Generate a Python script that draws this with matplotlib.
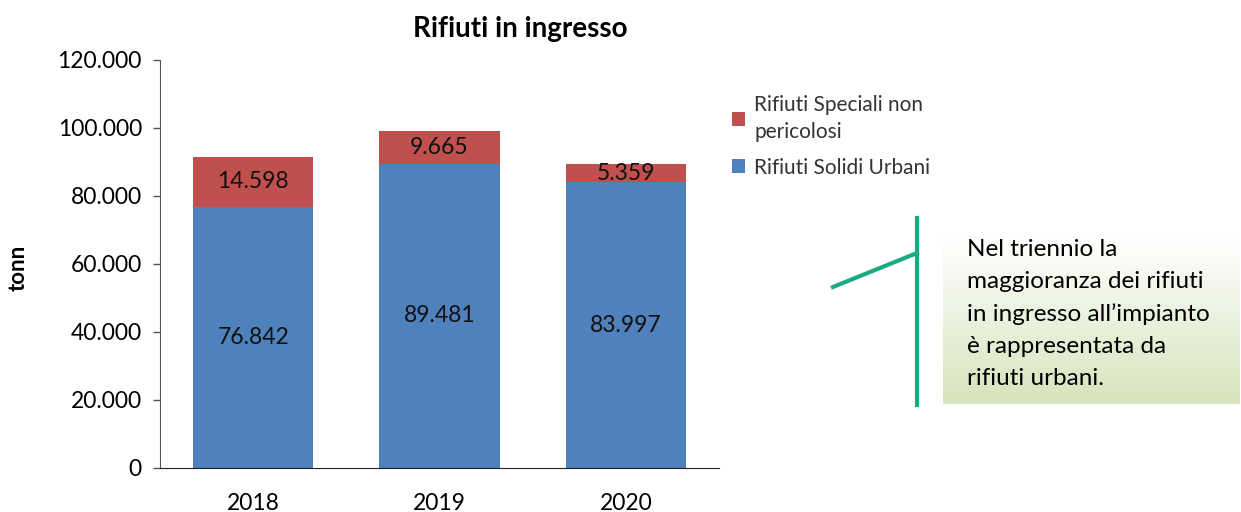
import numpy as np
import matplotlib.pyplot as plt
from matplotlib.colors import LinearSegmentedColormap

plt.rcParams['font.family'] = ['Lato', 'DejaVu Sans']

anni = ['2018', '2019', '2020']
urbani = [76842, 89481, 83997]
speciali = [14598, 9665, 5359]
lab_urbani = ['76.842', '89.481', '83.997']
lab_speciali = ['14.598', '9.665', '5.359']
yticks = [0, 20000, 40000, 60000, 80000, 100000, 120000]
ytick_lab = ['0', '20.000', '40.000', '60.000', '80.000', '100.000', '120.000']

blu = '#4F81BD'
rosso = '#C0504D'
verde = '#1BAA84'

W, H = 1241, 512
fig = plt.figure(figsize=(W / 100, H / 100), dpi=100)
ax = fig.add_axes([160 / W, 1 - 468 / H, (719 - 160) / W, (468 - 60) / H])

x = np.arange(len(anni))
b1 = ax.bar(x, urbani, width=0.645, color=blu, label='Rifiuti Solidi Urbani')
b2 = ax.bar(x, speciali, width=0.645, bottom=urbani, color=rosso,
            label='Rifiuti Speciali non\npericolosi')
ax.bar_label(b1, labels=lab_urbani, label_type='center', fontsize=16.5, color='#111111')
ax.bar_label(b2, labels=lab_speciali, label_type='center', fontsize=16.5, color='#111111')

ax.set_xlim(-0.5, 2.5)
ax.set_ylim(0, 120000)
ax.set_xticks(x)
ax.set_xticklabels(anni, fontsize=16.5)
ax.set_yticks(yticks)
ax.set_yticklabels(ytick_lab, fontsize=16.5)
ax.tick_params(axis='x', length=0, pad=18)
ax.tick_params(axis='y', length=5, width=1, color='#555555', pad=8)
for s in ['top', 'right']:
    ax.spines[s].set_visible(False)
ax.spines['left'].set_color('#555555')
ax.spines['bottom'].set_color('#222222')

fig.text(520 / W, 1 - 29 / H, 'Rifiuti in ingresso', ha='center', va='center',
         fontsize=20, fontweight='bold')
fig.text(18 / W, 1 - 268 / H, 'tonn', rotation=90, ha='center', va='center',
         fontsize=16, fontweight='bold')

h, l = ax.get_legend_handles_labels()
leg = fig.legend(h[::-1], l[::-1], loc='upper left', bbox_to_anchor=(713 / W, 1 - 76 / H),
                 frameon=False, fontsize=15, handlelength=0.62, handleheight=0.62,
                 handletextpad=0.45, labelspacing=0.75, labelcolor='#333333')
for t in leg.get_texts():
    t.set_linespacing(1.45)

# riquadro di commento con sfondo sfumato
bx = fig.add_axes([943 / W, 1 - 404 / H, (1240 - 943) / W, (404 - 235) / H])
cmap = LinearSegmentedColormap.from_list('g', ['#FFFFFF', '#D7E4BD'])
bx.imshow(np.linspace(0, 1, 100).reshape(-1, 1), aspect='auto', cmap=cmap,
          extent=[0, 1, 0, 1], origin='upper')
bx.axis('off')
fig.text(967 / W, 1 - 314 / H,
         'Nel triennio la\nmaggioranza dei rifiuti\nin ingresso all\u2019impianto\n'
         '\u00e8 rappresentata da\nrifiuti urbani.',
         ha='left', va='center', fontsize=17.5, linespacing=1.65)

ov = fig.add_axes([0, 0, 1, 1], facecolor='none')
ov.set_xlim(0, W)
ov.set_ylim(H, 0)
ov.axis('off')
ov.plot([917, 917], [218, 405], color=verde, lw=3)
ov.plot([833, 917], [287, 253], color=verde, lw=3)

fig.savefig('out.png', dpi=100)
